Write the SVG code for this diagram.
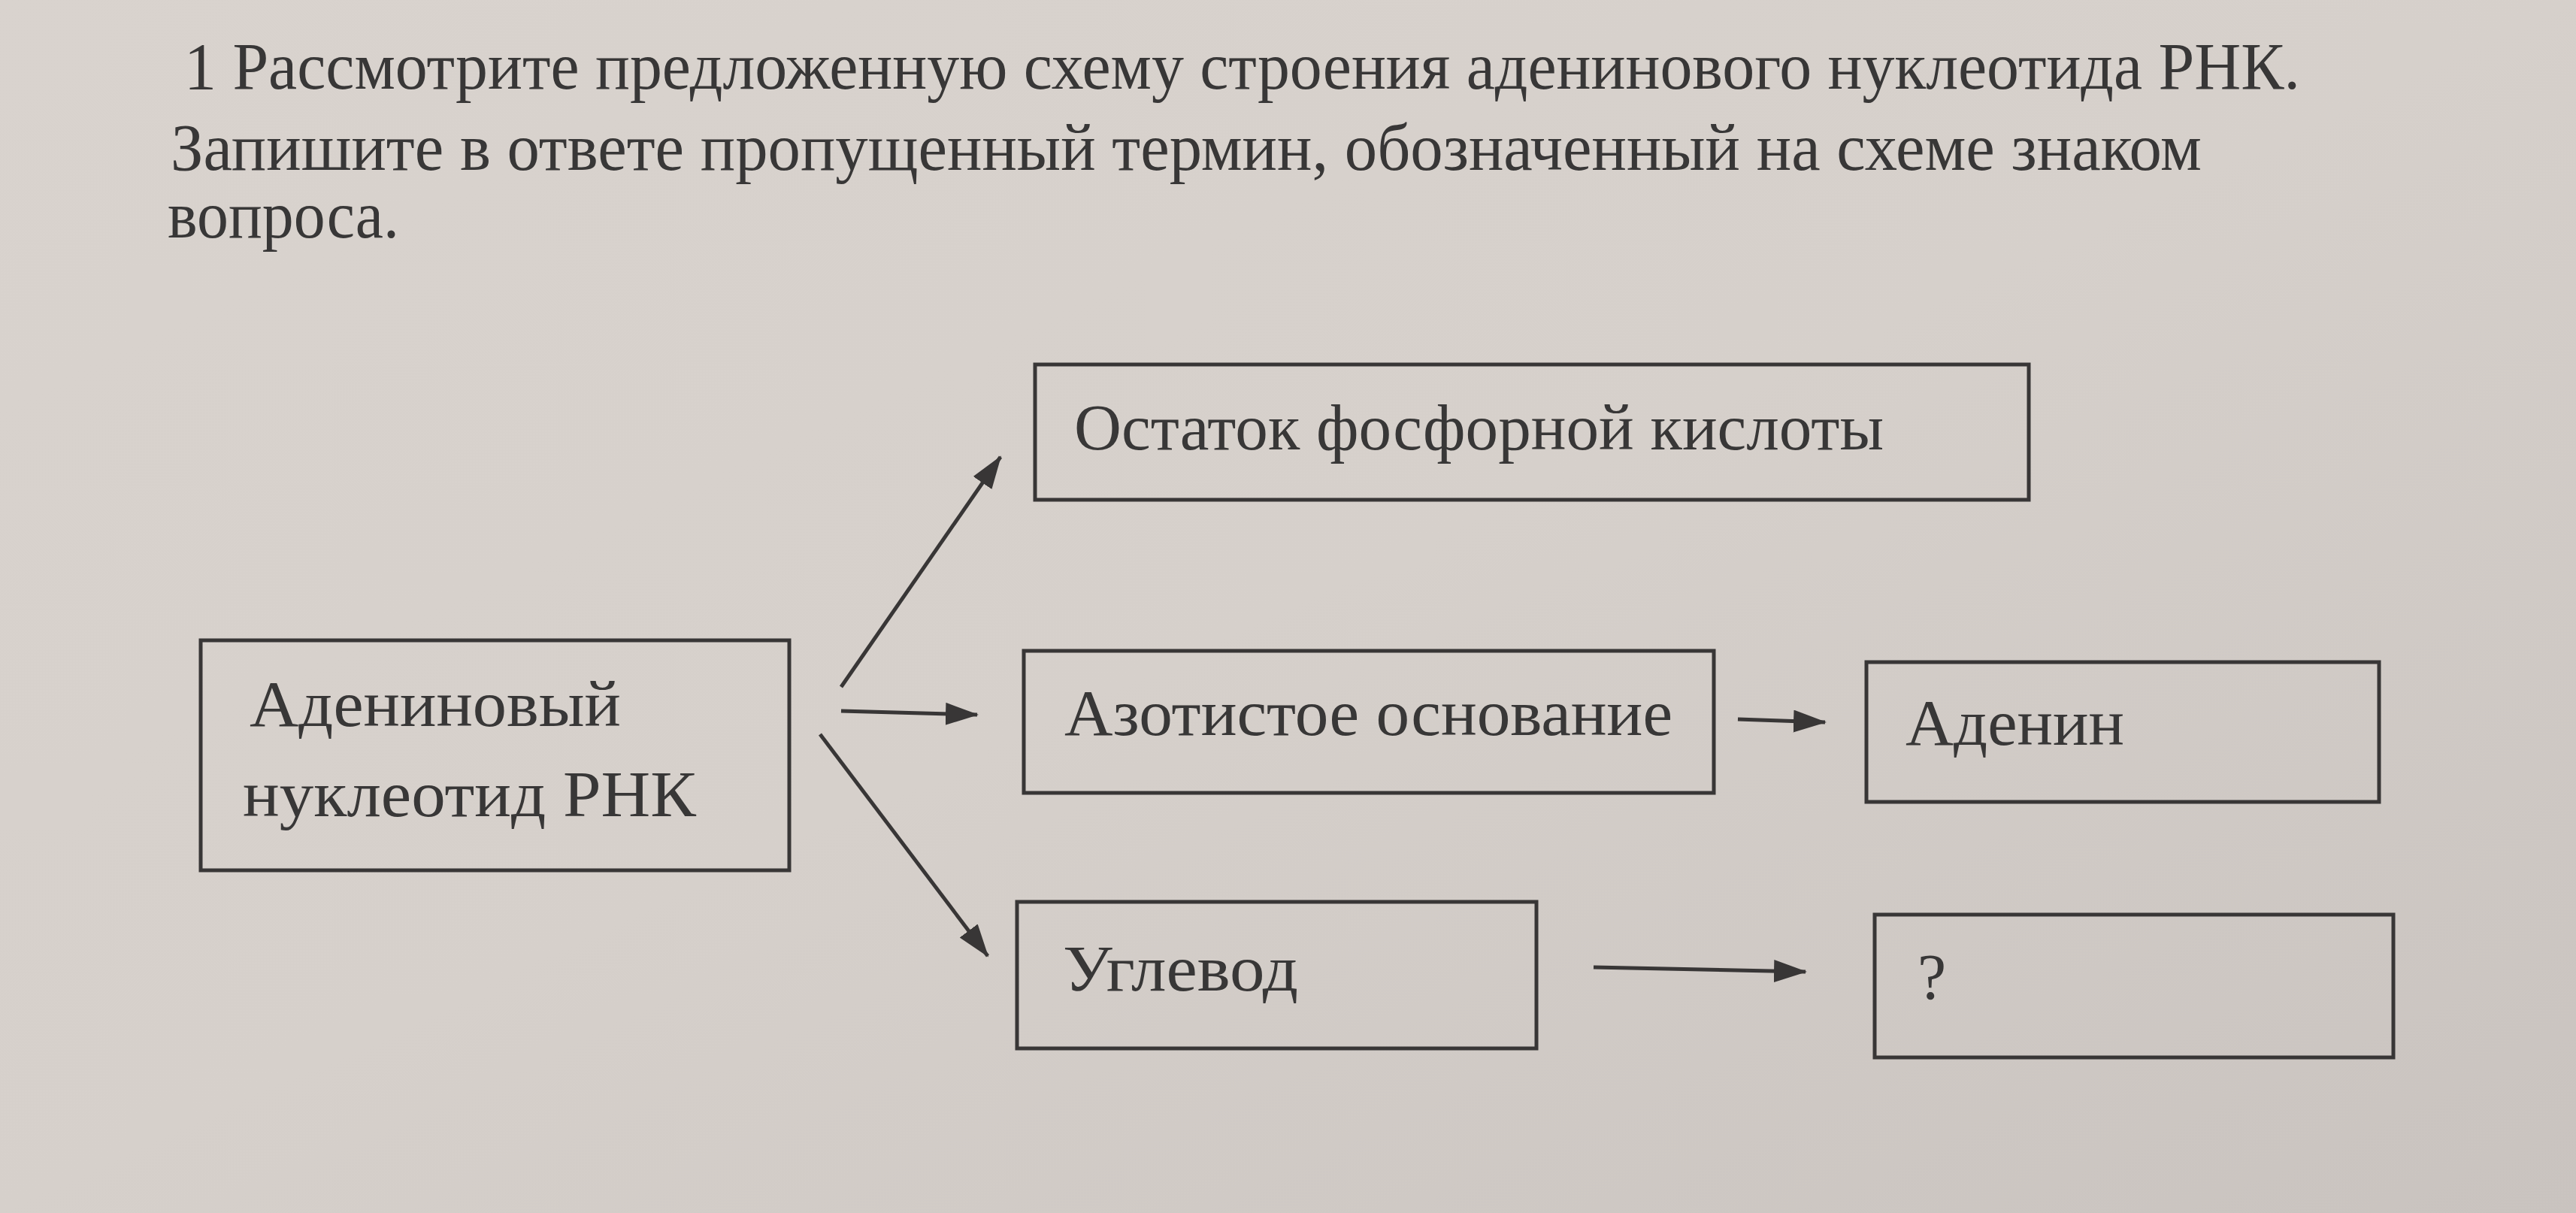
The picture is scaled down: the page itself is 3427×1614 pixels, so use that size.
<svg xmlns="http://www.w3.org/2000/svg" width="3427" height="1614" viewBox="0 0 3427 1614">
<style>
.t{font-family:"Liberation Serif","DejaVu Serif",serif;fill:#383737;}
.title{font-size:88px;}
.lbl{font-size:86px;}
.box{fill:none;stroke:#383636;stroke-width:5;}
.con{stroke:#383636;stroke-width:5;fill:none;marker-end:url(#ah);}
</style>
<defs>
<linearGradient id="bg" x1="0" y1="0" x2="1" y2="1">
<stop offset="0" stop-color="#d9d3ce"/>
<stop offset="0.5" stop-color="#d6d0cb"/>
<stop offset="1" stop-color="#c9c3bf"/>
</linearGradient>
<marker id="ah" markerUnits="userSpaceOnUse" markerWidth="46" markerHeight="34" refX="42" refY="15" orient="auto">
<path d="M0,0 L44,15 L0,30 Z" fill="#383636"/>
</marker>
</defs>
<rect width="3427" height="1614" fill="url(#bg)"/>
<g id="question">
<text class="t title" x="245" y="118" textLength="2815" lengthAdjust="spacingAndGlyphs">1 Рассмотрите предложенную схему строения аденинового нуклеотида РНК.</text>
<text class="t title" x="227" y="226" textLength="2702" lengthAdjust="spacingAndGlyphs">Запишите в ответе пропущенный термин, обозначенный на схеме знаком</text>
<text class="t title" x="223" y="316" textLength="308" lengthAdjust="spacingAndGlyphs">вопроса.</text>
</g>
<g id="connectors">
<line class="con" x1="1119" y1="914" x2="1331" y2="608"/>
<line class="con" x1="1119" y1="946" x2="1300" y2="951"/>
<line class="con" x1="1091" y1="977" x2="1314" y2="1272"/>
<line class="con" x1="2312" y1="957" x2="2428" y2="961"/>
<line class="con" x1="2120" y1="1287" x2="2402" y2="1293"/>
</g>
<g id="node-nucleotide">
<rect class="box" x="267" y="852" width="783" height="306"/>
<text class="t lbl" x="332" y="966" textLength="494" lengthAdjust="spacingAndGlyphs">Адениновый</text>
<text class="t lbl" x="323" y="1086" textLength="603" lengthAdjust="spacingAndGlyphs">нуклеотид РНК</text>
</g>
<g id="node-phosphate">
<rect class="box" x="1377" y="485" width="1322" height="180"/>
<text class="t lbl" x="1429" y="598" textLength="1077" lengthAdjust="spacingAndGlyphs">Остаток фосфорной кислоты</text>
</g>
<g id="node-base">
<rect class="box" x="1362" y="866" width="918" height="189"/>
<text class="t lbl" x="1416" y="978" textLength="809" lengthAdjust="spacingAndGlyphs">Азотистое основание</text>
</g>
<g id="node-adenine">
<rect class="box" x="2483" y="881" width="682" height="186"/>
<text class="t lbl" x="2535" y="991" textLength="291" lengthAdjust="spacingAndGlyphs">Аденин</text>
</g>
<g id="node-carb">
<rect class="box" x="1353" y="1200" width="691" height="195"/>
<text class="t lbl" x="1414" y="1318" textLength="313" lengthAdjust="spacingAndGlyphs">Углевод</text>
</g>
<g id="node-unknown">
<rect class="box" x="2494" y="1217" width="690" height="190"/>
<text class="t lbl" x="2551" y="1329">?</text>
</g>
</svg>
